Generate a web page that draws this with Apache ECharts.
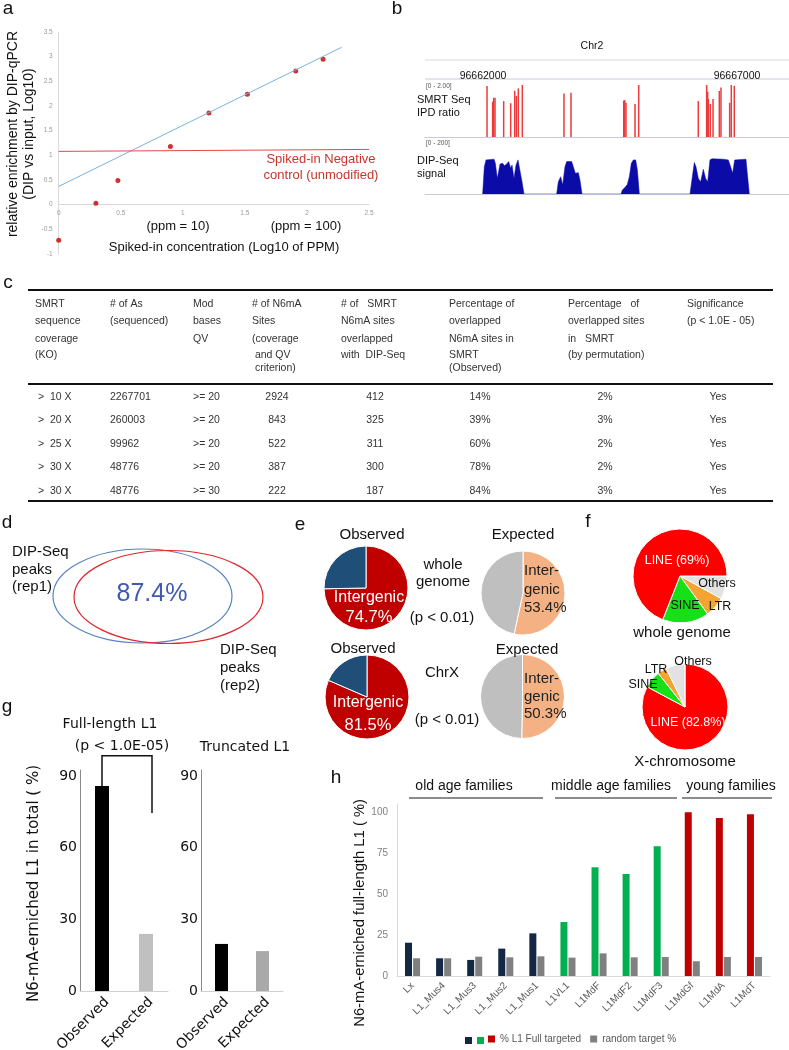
<!DOCTYPE html>
<html><head><meta charset="utf-8">
<script src="https://cdn.jsdelivr.net/npm/echarts@6/dist/echarts.min.js"></script>
<style>html,body{margin:0;padding:0;background:#fff}#c{width:789px;height:1050px}</style>
</head><body><div id="c"></div><script>
// ---------- DATA ----------
// panel a
const aConcX = [0, 0.30, 0.477, 0.90, 1.21, 1.52, 1.91, 2.13];
const aEnrichY = [-0.72, 0.03, 0.49, 1.18, 1.86, 2.24, 2.71, 2.95];
const aTrendX = [0, 2.28];
const aTrendY = [0.37, 3.19];
const aCtrlX = [0, 2.5];
const aCtrlY = [1.08, 1.12];
// panel b (offset in bp from 96662000)
const bSmrtPos = [79,190,210,236,407,545,624,656,695,774,1594,1732,2770,2789,2815,2992,3065,4238,4403,4423,4436,4475,4528,4652,4685,4856,4888,4947];
const bSmrtIPD = [1.96,1.36,1.51,1.51,1.38,1.30,1.78,1.58,1.87,2.0,1.67,1.70,1.40,1.42,1.32,1.27,2.0,1.38,2.0,1.74,1.46,1.27,1.46,1.77,1.90,1.32,2.0,1.97];
const bDipPos = [-7,26,59,217,243,282,335,387,420,466,505,545,571,610,650,689,728,768,807,
  1450,1483,1529,1568,1614,1647,1745,1778,1818,1877,1909,1949,
  2717,2743,2789,2841,2881,2920,2960,3006,3039,3078,
  4075,4121,4160,4193,4239,4285,4337,4383,4423,4468,4508,4731,4829,4875,4914,4954,5177,5203,5243];
const bDipSig = [0,114,142,145,128,65,125,128,118,125,135,107,121,65,121,142,135,51,0,
  0,51,72,38,114,135,135,114,86,89,58,0,
  0,17,26,40,72,128,142,142,100,0,
  0,72,131,114,65,51,103,65,51,142,147,145,142,114,86,142,145,86,0];
const bTicks = ['96662000','96667000'];
// panel c table
const cHeader = [
  ['SMRT','sequence','coverage','(KO)'],
  ['# of As','(sequenced)'],
  ['Mod','bases','QV'],
  ['# of N6mA','Sites','(coverage',' and QV',' criterion)'],
  ['# of   SMRT','N6mA sites','overlapped','with  DIP-Seq'],
  ['Percentage of','overlapped','N6mA sites in','SMRT','(Observed)'],
  ['Percentage   of','overlapped sites','in   SMRT','(by permutation)'],
  ['Significance','(p < 1.0E - 05)']
];
const cCoverage = ['>  10 X','>  20 X','>  25 X','>  30 X','>  30 X'];
const cNumAs = ['2267701','260003','99962','48776','48776'];
const cModQV = ['>= 20','>= 20','>= 20','>= 20','>= 30'];
const cN6mA = ['2924','843','522','387','222'];
const cOverlap = ['412','325','311','300','187'];
const cPctObs = ['14%','39%','60%','78%','84%'];
const cPctPerm = ['2%','3%','2%','2%','3%'];
const cSig = ['Yes','Yes','Yes','Yes','Yes'];
// panel d
const dOverlap = '87.4%';
// panel e
const eNames = ['Intergenic','Other'];
const eObsWhole = [74.7, 25.3];
const eExpWhole = [53.4, 46.6];
const eObsX = [81.5, 18.5];
const eExpX = [50.3, 49.7];
// panel f
const fWholeNames = ['Others','LTR','SINE','LINE'];
const fWholeVals = [8, 7, 16, 69];
const fXNames = ['LINE','SINE','LTR','Others'];
const fXVals = [82.8, 6.5, 3.5, 7.2];
// panel g
const gCats = ['Observed','Expected'];
const gFull = [85.8, 23.9];
const gTrunc = [19.7, 16.7];
// panel h
const hCats = ['Lx','L1_Mus4','L1_Mus3','L1_Mus2','L1_Mus1','L1VL1','L1MdF','L1MdF2','L1MdF3','L1MdGf','L1MdA','L1MdT'];
const hGroup = ['old','old','old','old','old','mid','mid','mid','mid','young','young','young'];
const hFull = [20.3, 10.8, 9.8, 16.7, 26.0, 32.9, 66.3, 62.2, 79.1, 99.8, 96.3, 98.6];
const hRandom = [10.8, 10.8, 11.8, 11.4, 12.0, 11.2, 13.8, 11.4, 11.6, 9.0, 11.6, 11.6];

// ---------- STYLE ----------
const LS = '"Liberation Sans", Arial, sans-serif';
const DV = '"DejaVu Sans", Verdana, sans-serif';
const groupColor = {old:'#142846', mid:'#00b050', young:'#c00000'};

function T(x, y, text, o) {
  o = o || {};
  return {type:'text', x:x, y:y, rotation:o.rot||0, silent:true, z:10,
    style:{text:text, fill:o.fill||'#111', fontSize:o.fs||13, fontFamily:o.ff||LS,
      align:o.align||'center', verticalAlign:o.va||'middle', lineHeight:o.lh}};
}
function L(x1,y1,x2,y2,color,w){
  return {type:'line', silent:true, shape:{x1:x1,y1:y1,x2:x2,y2:y2}, style:{stroke:color, lineWidth:w||1}};
}
const G = [];
// panel letters
[['a',8,9],['b',397,9],['c',8,283],['d',7,523],['e',300,525],['f',588,522],['g',7,707],['h',336,778]]
  .forEach(p => G.push(T(p[1], p[2], p[0], {fs:19})));

// panel a annotations
G.push(T(321,159,'Spiked-in Negative',{fs:13,fill:'#c0392b'}));
G.push(T(321,175,'control (unmodified)',{fs:13,fill:'#c0392b'}));
G.push(T(178,226,'(ppm = 10)',{fs:13}));
G.push(T(306,226,'(ppm = 100)',{fs:13}));
G.push(T(224,247,'Spiked-in concentration (Log10 of PPM)',{fs:13}));

// panel b texts
G.push(T(592,46,'Chr2',{fs:10.5}));
G.push(L(425,60,789,60,'#d9d9d9',1));
G.push(L(425,79,789,79,'#c8c8de',1));
G.push(T(483,76,bTicks[0],{fs:10.5}));
G.push(T(737,76,bTicks[1],{fs:10.5}));
G.push(T(426,86,'[0 - 2.00]',{fs:6.5,align:'left',fill:'#555'}));
G.push(T(417,100,'SMRT Seq',{fs:11,align:'left'}));
G.push(T(417,113,'IPD ratio',{fs:11,align:'left'}));
G.push(T(426,143,'[0 - 200]',{fs:6.5,align:'left',fill:'#555'}));
G.push(T(417,161,'DIP-Seq',{fs:11,align:'left'}));
G.push(T(417,174,'signal',{fs:11,align:'left'}));

// panel c table
G.push(L(28,290,773,290,'#111',2));
G.push(L(28,384,773,384,'#111',2));
G.push(L(28,501,773,501,'#111',2));
const cHdrX = [35,110,193,252,341,449,568,687];
const cHdrY = [304,321.5,339,355,368];
cHeader.forEach((col,ci) => col.forEach((s,li) => G.push(T(cHdrX[ci], cHdrY[li], s, {fs:10.5, align:'left', fill:'#333'}))));
const cRowY = [397,420.5,444,467.5,491];
const cCols = [[cCoverage,38,'left'],[cNumAs,110,'left'],[cModQV,193,'left'],[cN6mA,277,'center'],
  [cOverlap,375,'center'],[cPctObs,480,'center'],[cPctPerm,605,'center'],[cSig,718,'center']];
cCols.forEach(c => c[0].forEach((s,ri) => G.push(T(c[1], cRowY[ri], s, {fs:10.5, align:c[2], fill:'#333'}))));

// panel d venn
G.push({type:'ellipse', silent:true, shape:{cx:142.5, cy:596, rx:89.5, ry:47}, style:{fill:'none', stroke:'#5584bf', lineWidth:1.2}});
G.push({type:'ellipse', silent:true, shape:{cx:168.5, cy:597, rx:94.5, ry:46.5}, style:{fill:'none', stroke:'#e0262b', lineWidth:1.2}});
G.push(T(152,594,dOverlap,{fs:25,fill:'#3d5bb0'}));
['DIP-Seq','peaks','(rep1)'].forEach((s,i)=>G.push(T(12,552+i*17.5,s,{fs:15,align:'left'})));
['DIP-Seq','peaks','(rep2)'].forEach((s,i)=>G.push(T(220,650+i*18,s,{fs:15,align:'left'})));

// panel e labels
G.push(T(372,535,'Observed',{fs:15}));
G.push(T(523,535,'Expected',{fs:15}));
G.push(T(443,565,'whole',{fs:15}));
G.push(T(443,582,'genome',{fs:15}));
G.push(T(442,618,'(p < 0.01)',{fs:15}));
G.push(T(369,598,eNames[0],{fs:16,fill:'#fff'}));
G.push(T(369,617,eObsWhole[0].toFixed(1)+'%',{fs:16.5,fill:'#fff'}));
['Inter-','genic',eExpWhole[0].toFixed(1)+'%'].forEach((s,i)=>G.push(T(524,571+i*18.5,s,{fs:15,align:'left',fill:'#222'})));
G.push(T(363,649,'Observed',{fs:15}));
G.push(T(527,650,'Expected',{fs:15}));
G.push(T(442,673,'ChrX',{fs:15}));
G.push(T(447,720,'(p < 0.01)',{fs:15}));
G.push(T(368,703,eNames[0],{fs:16,fill:'#fff'}));
G.push(T(368,725,eObsX[0].toFixed(1)+'%',{fs:16.5,fill:'#fff'}));
['Inter-','genic',eExpX[0].toFixed(1)+'%'].forEach((s,i)=>G.push(T(524,679+i*17.5,s,{fs:15,align:'left',fill:'#222'})));

// panel f labels
G.push(T(677,561,'LINE ('+fWholeVals[3]+'%)',{fs:12.5,fill:'#fff'}));
G.push(T(717,584,'Others',{fs:12.5}));
G.push(T(685,606,'SINE',{fs:12.5}));
G.push(T(720,607,'LTR',{fs:12.5}));
G.push(T(682,633,'whole genome',{fs:15}));
G.push(T(688,723,'LINE ('+fXVals[0]+'%)',{fs:12.5,fill:'#fff'}));
G.push(T(643,685,'SINE',{fs:12.5}));
G.push(T(656,670,'LTR',{fs:12.5}));
G.push(T(693,662,'Others',{fs:12.5}));
G.push(T(685,762,'X-chromosome',{fs:15}));

// panel g titles
G.push(T(110,724,'Full-length L1',{fs:14,ff:DV}));
G.push(T(122,746,'(p < 1.0E-05)',{fs:14,ff:DV}));
G.push(T(245,747,'Truncated L1',{fs:14,ff:DV}));

// panel h group labels
G.push(T(464,786,'old age families',{fs:14}));
G.push(T(611,786,'middle age families',{fs:14}));
G.push(T(731,786,'young families',{fs:14}));
G.push(L(409,798,543,798,'#8c8c8c',2));
G.push(L(555,798,677,798,'#8c8c8c',2));
G.push(L(682,798,772,798,'#8c8c8c',2));
// h legend extra squares for group colours
G.push({type:'rect', silent:true, shape:{x:465,y:1037,width:7,height:7}, style:{fill:groupColor.old}});
G.push({type:'rect', silent:true, shape:{x:477,y:1037,width:7,height:7}, style:{fill:groupColor.mid}});

function pie(center, r, names, vals, colors, start) {
  return {type:'pie', center:center, radius:r, startAngle:start, clockwise:true, silent:true,
    label:{show:false}, labelLine:{show:false}, animation:false,
    itemStyle:{borderColor:'#fff', borderWidth:1},
    data: vals.map((v,i)=>({value:v, name:names[i], itemStyle:{color:colors[i]}}))};
}
const fCol = {LINE:'#ff0000', SINE:'#16e016', LTR:'#f4a433', Others:'#e2e2e2'};

const axisOff = {show:false};
const gridBase = {containLabel:false, outerBoundsMode:'none'};
const gXLabel = {rotate:45, fontSize:14, fontFamily:DV, color:'#111', margin:4, interval:0, verticalAlign:'top'};
const option = {
  animation:false,
  backgroundColor:'#fff',
  textStyle:{fontFamily:LS},
  grid:[
    Object.assign({left:58.7, top:32, width:310.3, height:222}, gridBase),   // a
    Object.assign({left:425, top:85, width:364, height:52}, gridBase),        // b smrt
    Object.assign({left:425, top:146, width:364, height:48}, gridBase),       // b dip
    Object.assign({left:80, top:770, width:88, height:221}, gridBase),        // g full
    Object.assign({left:201, top:770, width:82, height:221}, gridBase),       // g trunc
    Object.assign({left:397, top:803.8, width:373, height:172.2}, gridBase)   // h
  ],
  xAxis:[
    {gridIndex:0, type:'value', min:0, max:2.5, interval:0.5, offset:-49.3,
      axisLine:{onZero:false, lineStyle:{color:'#d9d9d9'}},
      axisTick:{show:false}, splitLine:{show:false}, axisLabel:{fontSize:6.5, color:'#999', margin:5}},
    {gridIndex:1, type:'value', min:-1142, max:6024, axisLine:{lineStyle:{color:'#c8c8de'}}, axisTick:axisOff, axisLabel:axisOff, splitLine:axisOff},
    {gridIndex:2, type:'value', min:-1142, max:6024, axisLine:{lineStyle:{color:'#c8c8de'}}, axisTick:axisOff, axisLabel:axisOff, splitLine:axisOff},
    {gridIndex:3, type:'category', data:gCats, axisLine:{lineStyle:{color:'#d0d0d0'}}, axisTick:axisOff, axisLabel:gXLabel},
    {gridIndex:4, type:'category', data:gCats, axisLine:{lineStyle:{color:'#d0d0d0'}}, axisTick:axisOff, axisLabel:gXLabel},
    {gridIndex:5, type:'category', data:hCats, axisLine:{lineStyle:{color:'#d9d9d9'}}, axisTick:axisOff,
      axisLabel:{rotate:45, fontSize:10, color:'#595959', margin:8, interval:0}}
  ],
  yAxis:[
    {gridIndex:0, type:'value', min:-1, max:3.5, interval:0.5, axisLine:{show:true, onZero:false, lineStyle:{color:'#d9d9d9'}},
      axisTick:{show:false}, splitLine:{show:false}, axisLabel:{fontSize:6.5, color:'#999', margin:6},
      name:'relative enrichment by DIP-qPCR\n(DIP vs input, Log10)', nameLocation:'middle', nameRotate:90, nameGap:21,
      nameTextStyle:{fontSize:14, lineHeight:16, color:'#111', fontFamily:LS, padding:[0,0,0,18]}},
    {gridIndex:1, type:'value', min:0, max:2, show:false},
    {gridIndex:2, type:'value', min:0, max:200, show:false},
    {gridIndex:3, type:'value', min:0, max:92.5, interval:30, axisLine:{show:true, lineStyle:{color:'#8a8a8a'}},
      axisTick:axisOff, splitLine:axisOff, axisLabel:{fontSize:14, fontFamily:DV, color:'#111', margin:3, showMaxLabel:false},
      name:'N6-mA-erniched L1 in total ( %)', nameLocation:'middle', nameRotate:90, nameGap:38,
      nameTextStyle:{fontSize:15, color:'#111', fontFamily:DV, padding:[0,6,0,0]}},
    {gridIndex:4, type:'value', min:0, max:92.5, interval:30, axisLine:{show:true, lineStyle:{color:'#8a8a8a'}},
      axisTick:axisOff, splitLine:axisOff, axisLabel:{fontSize:14, fontFamily:DV, color:'#111', margin:3, showMaxLabel:false}},
    {gridIndex:5, type:'value', min:0, max:105, interval:25, axisLine:{show:true, lineStyle:{color:'#d9d9d9'}},
      axisTick:axisOff, splitLine:axisOff, axisLabel:{fontSize:10, color:'#7f7f7f', margin:9, showMaxLabel:false},
      name:'N6-mA-erniched full-length L1 ( %)', nameLocation:'middle', nameRotate:90, nameGap:30,
      nameTextStyle:{fontSize:14.8, color:'#111', fontFamily:LS, padding:[0,46,0,0]}}
  ],
  legend:{show:true, left:488, top:1034, itemWidth:7, itemHeight:7, itemGap:9, icon:'rect', padding:0,
    textStyle:{fontSize:10, color:'#595959'}, data:['% L1 Full targeted','random target %'], selectedMode:false},
  series:[
    // panel a
    {type:'line', xAxisIndex:0, yAxisIndex:0, data:aTrendX.map((x,i)=>[x,aTrendY[i]]), symbol:'none', silent:true,
      lineStyle:{color:'#7ab3dd', width:1}},
    {type:'line', xAxisIndex:0, yAxisIndex:0, data:aCtrlX.map((x,i)=>[x,aCtrlY[i]]), symbol:'none', silent:true,
      lineStyle:{color:'#e4484a', width:1}},
    {type:'scatter', xAxisIndex:0, yAxisIndex:0, data:aConcX.map((x,i)=>[x,aEnrichY[i]]), symbolSize:5,
      itemStyle:{color:'#c00000'}, silent:true},
    // panel b
    {type:'bar', xAxisIndex:1, yAxisIndex:1, data:bSmrtPos.map((x,i)=>[x,bSmrtIPD[i]]), barWidth:1.5,
      itemStyle:{color:'#ec3b3b'}, silent:true},
    {type:'line', xAxisIndex:2, yAxisIndex:2, data:bDipPos.map((x,i)=>[x,bDipSig[i]]), symbol:'none', silent:true,
      lineStyle:{color:'#0b0ba8', width:0.5}, areaStyle:{color:'#0b0ba8', opacity:1}},
    // panel e pies
    pie([366,588], 42, eNames, eObsWhole, ['#c00000','#1f4e79'], 90),
    pie([523,593], 42, eNames, eExpWhole, ['#f4b183','#bfbfbf'], 90),
    pie([367,697], 42, eNames, eObsX, ['#c00000','#1f4e79'], 90),
    pie([522.5,696.5], 42, eNames, eExpX, ['#f4b183','#bfbfbf'], 90),
    // panel f pies
    pie([680,576], 47, fWholeNames, fWholeVals, fWholeNames.map(n=>fCol[n]), 0),
    pie([685,707], 43, fXNames, fXVals, fXNames.map(n=>fCol[n]), 90),
    // panel g
    {type:'bar', xAxisIndex:3, yAxisIndex:3, barWidth:14, silent:true,
      data:gFull.map((v,i)=>({value:v, itemStyle:{color:i===0?'#000':'#c0c0c0'}}))},
    {type:'bar', xAxisIndex:4, yAxisIndex:4, barWidth:13, silent:true,
      data:gTrunc.map((v,i)=>({value:v, itemStyle:{color:i===0?'#000':'#a9a9a9'}}))},
    // panel h
    {type:'bar', name:'% L1 Full targeted', xAxisIndex:5, yAxisIndex:5, barWidth:7, barGap:'15%', silent:true,
      itemStyle:{color:'#c00000'},
      data:hFull.map((v,i)=>({value:v, itemStyle:{color:groupColor[hGroup[i]]}}))},
    {type:'bar', name:'random target %', xAxisIndex:5, yAxisIndex:5, barWidth:7, barGap:'15%', silent:true,
      itemStyle:{color:'#808080'}, data:hRandom}
  ],
  graphic:{elements:G}
};
const chart = echarts.init(document.getElementById('c'));
chart.setOption(option);
// significance bracket in g, positioned from data
const bracketTop = 98.5, bracketRightEnd = 74.5;
const p0 = chart.convertToPixel({xAxisIndex:3, yAxisIndex:3}, [gCats[0], gFull[0]]);
const p1 = chart.convertToPixel({xAxisIndex:3, yAxisIndex:3}, [gCats[0], bracketTop]);
const p2 = chart.convertToPixel({xAxisIndex:3, yAxisIndex:3}, [gCats[1], bracketTop]);
const p3 = chart.convertToPixel({xAxisIndex:3, yAxisIndex:3}, [gCats[1], bracketRightEnd]);
G.push({type:'polyline', silent:true, shape:{points:[[p0[0],p0[1]],[p1[0],p1[1]],[p2[0]+6,p2[1]],[p3[0]+6,p3[1]]]},
  style:{stroke:'#111', lineWidth:1.5, fill:'none'}});
chart.setOption({graphic:{elements:G}});
</script></body></html>
